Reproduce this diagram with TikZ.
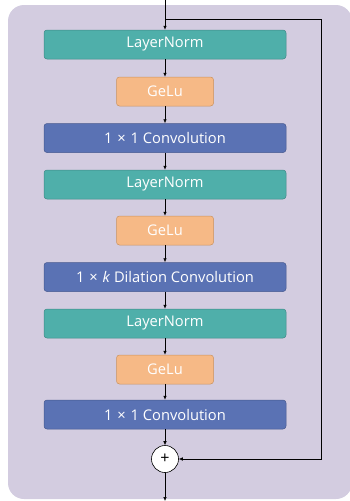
\documentclass[tikz,border=0pt]{standalone}
\usepackage{fontspec}
\setmainfont{Open Sans}
\usetikzlibrary{arrows.meta}

\definecolor{panel}{HTML}{D3CCE0}
\definecolor{normfill}{HTML}{4FAFAA}
\definecolor{normline}{HTML}{3E8A86}
\definecolor{actfill}{HTML}{F6B986}
\definecolor{actline}{HTML}{C9925F}
\definecolor{convfill}{HTML}{5A72B4}
\definecolor{convline}{HTML}{46598F}

\newcommand{\bytimes}{\hspace{0.33em}×\hspace{0.33em}}

\tikzset{
  block/.style={rounded corners=3pt, line width=0.5pt, text=white,
    minimum height=29pt, inner sep=0pt, font=\fontsize{14.7}{16}\selectfont},
  normbox/.style={block, draw=normline, fill=normfill, minimum width=242pt},
  actbox/.style={block, draw=actline, fill=actfill, minimum width=97pt},
  convbox/.style={block, draw=convline, fill=convfill, minimum width=242pt},
  flow/.style={line width=0.6pt, -{Latex[length=4pt,width=3.6pt]}},
}

\begin{document}
\begin{tikzpicture}[x=1pt,y=-1pt]
\useasboundingbox (0,0) rectangle (350,501);
\fill[panel, rounded corners=16pt] (8,5) rectangle (352,499);

\coordinate (in) at (165,0);
\coordinate (out) at (165,501);
\coordinate (split) at (165,19.5);
\coordinate (skipr) at (321,19.5);
\coordinate (skipb) at (321,459);

\node[normbox] (ln1) at (165,44.5) {LayerNorm};
\node[actbox] (act1) at (165,91.5) {GeLu};
\node[convbox] (conv1) at (165,138) {1\bytimes1 Convolution};
\node[normbox] (ln2) at (165,184.5) {LayerNorm};
\node[actbox] (act2) at (165,230.5) {GeLu};
\node[convbox] (conv2) at (165,277) {1\bytimes\textit{k} Dilation Convolution};
\node[normbox] (ln3) at (165,323.5) {LayerNorm};
\node[actbox] (act3) at (165,369.5) {GeLu};
\node[convbox] (conv3) at (165,414.5) {1\bytimes1 Convolution};
\node[circle, draw, fill=white, line width=0.6pt, minimum size=27pt,
  inner sep=0pt, font=\fontsize{16}{16}\selectfont] (add) at (165,459) {+};

\draw[flow] (in) -- (ln1);
\draw[flow] (ln1) -- (act1);
\draw[flow] (act1) -- (conv1);
\draw[flow] (conv1) -- (ln2);
\draw[flow] (ln2) -- (act2);
\draw[flow] (act2) -- (conv2);
\draw[flow] (conv2) -- (ln3);
\draw[flow] (ln3) -- (act3);
\draw[flow] (act3) -- (conv3);
\draw[flow] (conv3) -- (add);
\draw[flow] (add) -- (out);

% residual path
\draw[flow] (split) -- (skipr) -- (skipb) -- (add);
\end{tikzpicture}
\end{document}
